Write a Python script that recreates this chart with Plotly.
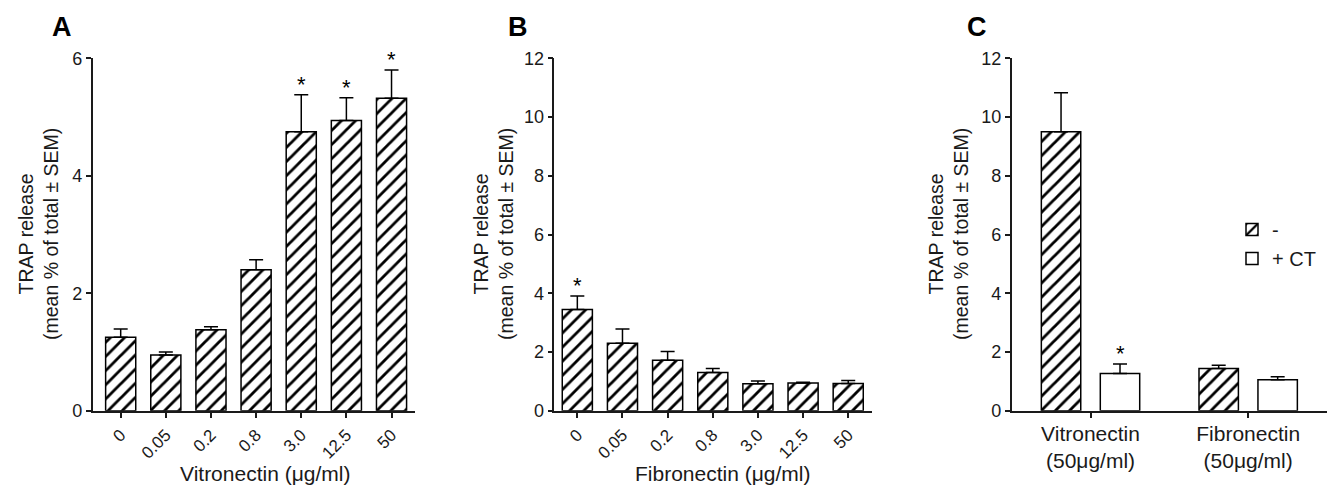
import plotly.graph_objects as go

# ---------------- data ----------------
conc_labels = ["0", "0.05", "0.2", "0.8", "3.0", "12.5", "50"]

vn_mean = [1.25, 0.95, 1.38, 2.40, 4.75, 4.94, 5.32]
vn_sem = [0.14, 0.05, 0.05, 0.17, 0.63, 0.39, 0.48]
vn_sig = [False, False, False, False, True, True, True]

fn_mean = [3.45, 2.30, 1.72, 1.30, 0.92, 0.94, 0.93]
fn_sem = [0.46, 0.48, 0.30, 0.14, 0.09, 0.03, 0.10]
fn_sig = [True, False, False, False, False, False, False]

c_groups = ["Vitronectin<br>(50\u03bcg/ml)", "Fibronectin<br>(50\u03bcg/ml)"]
c_minus_mean = [9.50, 1.44]
c_minus_sem = [1.33, 0.11]
c_minus_sig = [False, False]
c_ct_mean = [1.27, 1.05]
c_ct_sem = [0.32, 0.11]
c_ct_sig = [True, False]

# ---------------- style ----------------
FONT = "Arial, 'Liberation Sans', sans-serif"
INK = "#1a1a1a"
hatch = dict(shape="/", size=10, solidity=0.28, fgcolor="black", bgcolor="white")
W, H = 1327, 486

fig = go.Figure()

def err(sem):
    return dict(type="data", array=sem, arrayminus=[0] * len(sem), symmetric=False,
                color="black", thickness=1.5, width=7)

def add_stars(xs, tops, sig, xref, yref, xshift=0):
    for x, t, s in zip(xs, tops, sig):
        if s:
            fig.add_annotation(x=x, y=t, xref=xref, yref=yref, text="*", showarrow=False,
                               yanchor="bottom", yshift=-4, xshift=xshift,
                               font=dict(family=FONT, size=22, color="black"))

# Panel A
idx = list(range(len(conc_labels)))
fig.add_trace(go.Bar(x=idx, y=vn_mean, width=0.667, xaxis="x", yaxis="y",
                     marker=dict(color="white", pattern=hatch, line=dict(color="black", width=1.5)),
                     error_y=err(vn_sem), showlegend=False))
add_stars(idx, [m + s for m, s in zip(vn_mean, vn_sem)], vn_sig, "x", "y")

# Panel B
fig.add_trace(go.Bar(x=idx, y=fn_mean, width=0.667, xaxis="x2", yaxis="y2",
                     marker=dict(color="white", pattern=hatch, line=dict(color="black", width=1.5)),
                     error_y=err(fn_sem), showlegend=False))
add_stars(idx, [m + s for m, s in zip(fn_mean, fn_sem)], fn_sig, "x2", "y2")

# Panel C
cidx = list(range(len(c_groups)))
fig.add_trace(go.Bar(x=cidx, y=c_minus_mean, width=0.25, offset=-0.312, xaxis="x3", yaxis="y3",
                     name="-", marker=dict(color="white", pattern=hatch, line=dict(color="black", width=1.5)),
                     error_y=err(c_minus_sem), showlegend=True))
fig.add_trace(go.Bar(x=cidx, y=c_ct_mean, width=0.25, offset=0.062, xaxis="x3", yaxis="y3",
                     name="+ CT", marker=dict(color="white", line=dict(color="black", width=1.5)),
                     error_y=err(c_ct_sem), showlegend=True))
add_stars([i - 0.187 for i in cidx], [m + s for m, s in zip(c_minus_mean, c_minus_sem)], c_minus_sig, "x3", "y3")
add_stars([i + 0.187 for i in cidx], [m + s for m, s in zip(c_ct_mean, c_ct_sem)], c_ct_sig, "x3", "y3")

ydom = [1 - 410.7 / H, 1 - 58.3 / H]
xa = dict(showline=True, linecolor=INK, linewidth=1.5, ticks="outside", ticklen=6, tickwidth=1.5,
          tickcolor=INK, showgrid=False, zeroline=False, automargin=False,
          tickfont=dict(family=FONT, size=17, color=INK))
ya = dict(showline=True, linecolor=INK, linewidth=1.5, ticks="outside", ticklen=5, tickwidth=1.5,
          tickcolor=INK, showgrid=False, zeroline=False, automargin=False,
          tickfont=dict(family=FONT, size=18, color=INK))

fig.update_layout(
    template="none",
    width=W, height=H, margin=dict(l=0, r=0, t=0, b=0, pad=0, autoexpand=False),
    paper_bgcolor="white", plot_bgcolor="white", barmode="overlay",
    font=dict(family=FONT, color=INK),
    xaxis=dict(xa, domain=[92.7 / W, 415 / W], anchor="y", range=[-0.62, 6.52],
               tickvals=idx, ticktext=conc_labels, tickangle=-45),
    yaxis=dict(ya, domain=ydom, anchor="x", range=[0, 6], tickvals=[0, 2, 4, 6]),
    xaxis2=dict(xa, domain=[554.3 / W, 871.7 / W], anchor="y2", range=[-0.51, 6.52],
                tickvals=idx, ticktext=conc_labels, tickangle=-45),
    yaxis2=dict(ya, domain=ydom, anchor="x2", range=[0, 12], tickvals=[0, 2, 4, 6, 8, 10, 12]),
    xaxis3=dict(xa, domain=[1011.7 / W, 1.0], anchor="y3", range=[-0.5, 1.5],
                tickvals=cidx, ticktext=c_groups, tickangle=0, ticklabelstandoff=-3,
                tickfont=dict(family=FONT, size=21, color=INK)),
    yaxis3=dict(ya, domain=ydom, anchor="x3", range=[0, 12], tickvals=[0, 2, 4, 6, 8, 10, 12]),
    legend=dict(x=1232 / W, y=1 - 210 / H, xanchor="left", yanchor="top",
                font=dict(family=FONT, size=20, color=INK), bgcolor="rgba(0,0,0,0)",
                tracegroupgap=6),
)

ytitle = "TRAP release<br>(mean % of total \u00b1 SEM)"
for xc in [39, 494, 949]:
    fig.add_annotation(x=xc / W, y=1 - 234 / H, xref="paper", yref="paper", text=ytitle,
                       textangle=-90, showarrow=False, xanchor="center", yanchor="middle",
                       font=dict(family=FONT, size=19.5, color=INK))

for xc, t in [(265, "Vitronectin (\u03bcg/ml)"), (722, "Fibronectin (\u03bcg/ml)")]:
    fig.add_annotation(x=xc / W, y=1 - 473 / H, xref="paper", yref="paper", text=t,
                       showarrow=False, xanchor="center", yanchor="middle",
                       font=dict(family=FONT, size=21, color=INK))

for xc, t in [(62, "A"), (518, "B"), (977, "C")]:
    fig.add_annotation(x=xc / W, y=1 - 27 / H, xref="paper", yref="paper", text="<b>%s</b>" % t,
                       showarrow=False, xanchor="center", yanchor="middle",
                       font=dict(family=FONT, size=27, color="black"))

js = ("var s=document.documentElement.style;s.margin='0';s.padding='0';s.overflow='hidden';s.height='486px';"
      "var b=document.body.style;b.margin='0';b.padding='0';b.overflow='hidden';b.height='486px';")
fig.write_html("out.html", config={"displayModeBar": False}, post_script=js)
